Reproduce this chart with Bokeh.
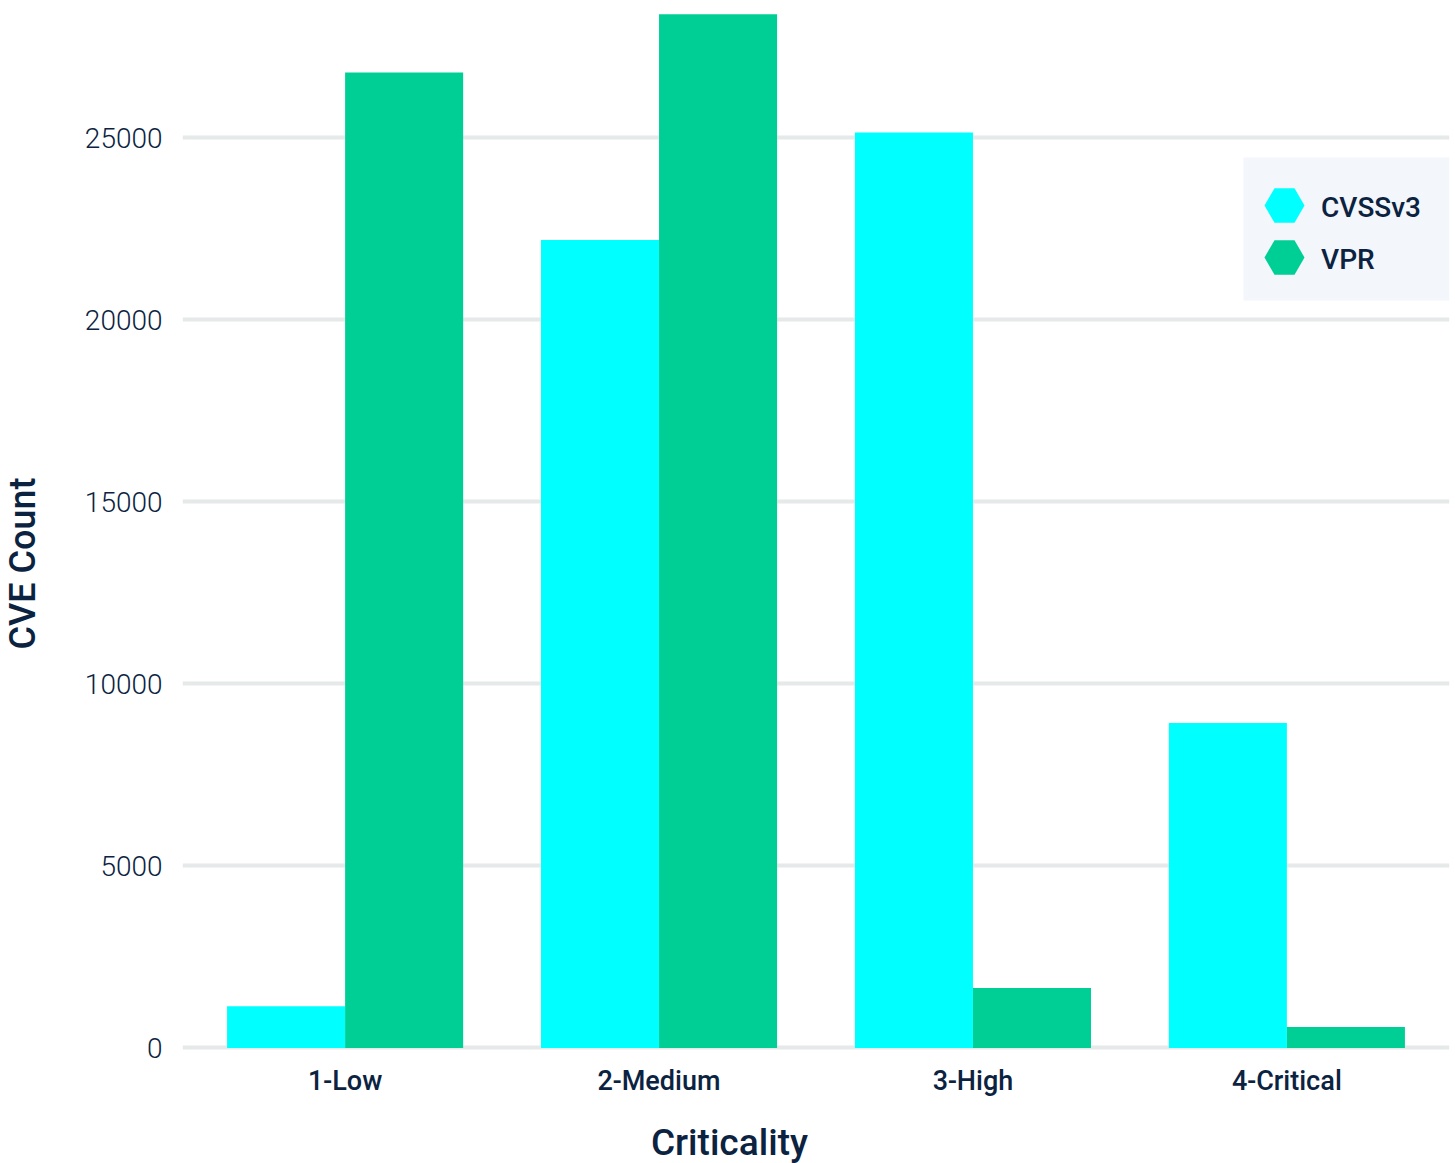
import math
from bokeh.plotting import figure
from bokeh.models import (ColumnDataSource, FactorRange, Range1d, Legend, LegendItem,
                          FixedTicker, Label, BoxAnnotation)
from bokeh.transform import dodge
from bokeh.embed import file_html
from bokeh.resources import INLINE

categories = ["1-Low", "2-Medium", "3-High", "4-Critical"]
cvssv3 = [1150, 22200, 25150, 8930]
vpr = [26800, 28400, 1650, 580]
y_ticks = [0, 5000, 10000, 15000, 20000, 25000]
series_names = ["CVSSv3", "VPR"]

TEXT = "#0b2341"
CYAN = "#00ffff"
GREEN = "#00cf95"
LEGEND_BG = "#f3f6fa"

source = ColumnDataSource(dict(cat=categories, cvss=cvssv3, vpr=vpr))

p = figure(
    width=1455, height=1163,
    x_range=FactorRange(*categories, range_padding=0.009),
    y_range=Range1d(-69, 28776),
    output_backend="svg", toolbar_location=None,
    min_border_left=182, min_border_right=6, min_border_top=0, min_border_bottom=113,
)
p.outline_line_color = None
p.background_fill_color = "white"
p.border_fill_color = "white"

bw = 0.376
r1 = p.vbar(x=dodge("cat", -0.188, range=p.x_range), top="cvss", width=bw, source=source,
            fill_color=CYAN, line_color=None)
r2 = p.vbar(x=dodge("cat", 0.188, range=p.x_range), top="vpr", width=bw, source=source,
            fill_color=GREEN, line_color=None)

# legend proxies (hexagon markers) and invisible proxies for the label column
s1 = p.scatter(x=[categories[0]], y=[0], marker="hex", size=40,
               fill_color=CYAN, line_color=None, visible=False)
s2 = p.scatter(x=[categories[0]], y=[0], marker="hex", size=40,
               fill_color=GREEN, line_color=None, visible=False)
t1 = p.scatter(x=[categories[0]], y=[0], marker="square", size=1,
               fill_alpha=0, line_alpha=0, visible=False)
t2 = p.scatter(x=[categories[0]], y=[0], marker="square", size=1,
               fill_alpha=0, line_alpha=0, visible=False)

# legend background panel (screen units, relative to the frame)
legend_bg = BoxAnnotation(left=1061, right=1267, bottom=750, top=893,
                          left_units="screen", right_units="screen",
                          top_units="screen", bottom_units="screen",
                          fill_color=LEGEND_BG, fill_alpha=1.0, line_color=None)
p.add_layout(legend_bg)


def glyph_legend(renderer, loc):
    return Legend(
        items=[LegendItem(label=" ", renderers=[renderer])],
        location=loc, background_fill_color=None, border_line_color=None,
        label_text_font_size="10px", glyph_width=100, glyph_height=100,
        padding=0, spacing=0, margin=0, label_standoff=0,
    )


p.add_layout(glyph_legend(s1, (1052, 795)))
p.add_layout(glyph_legend(s2, (1052, 743)))

label_legend = Legend(
    items=[LegendItem(label=series_names[0], renderers=[t1]),
           LegendItem(label=series_names[1], renderers=[t2])],
    location=(1138, 771), background_fill_color=None, border_line_color=None,
    label_text_font="Roboto Medium", label_text_font_size="28px", label_text_color=TEXT,
    glyph_width=1, glyph_height=40, padding=0, spacing=12, margin=0, label_standoff=0,
)
p.add_layout(label_legend)

p.xgrid.grid_line_color = None
p.ygrid.grid_line_color = "#e6e9e9"
p.ygrid.grid_line_width = 4
p.yaxis.ticker = FixedTicker(ticks=y_ticks)

for ax in (p.xaxis[0], p.yaxis[0]):
    ax.axis_line_color = None
    ax.major_tick_line_color = None
    ax.minor_tick_line_color = None
    ax.major_tick_out = 0
    ax.major_tick_in = 0
    ax.minor_tick_out = 0
    ax.major_label_text_color = TEXT

p.xaxis.major_label_text_font = "Roboto Medium"
p.xaxis.major_label_text_font_size = "27px"
p.xaxis.major_label_standoff = 14
p.yaxis.major_label_text_font = "Roboto Light"
p.yaxis.major_label_text_font_size = "28px"
p.yaxis.major_label_standoff = 20
p.yaxis.formatter.use_scientific = False

# axis titles as labels in the side panels (canvas units)
p.add_layout(Label(text="Criticality", x=729, y=1142, x_units="canvas", y_units="canvas",
                   text_align="center", text_baseline="middle",
                   text_font="Roboto Medium", text_font_size="37px", text_color=TEXT), "below")
p.add_layout(Label(text="CVE Count", x=22, y=563, x_units="canvas", y_units="canvas",
                   angle=math.pi / 2, text_align="center", text_baseline="middle",
                   text_font="Roboto Medium", text_font_size="36px", text_color=TEXT), "left")

open("out.html", "w").write(file_html(p, INLINE))
